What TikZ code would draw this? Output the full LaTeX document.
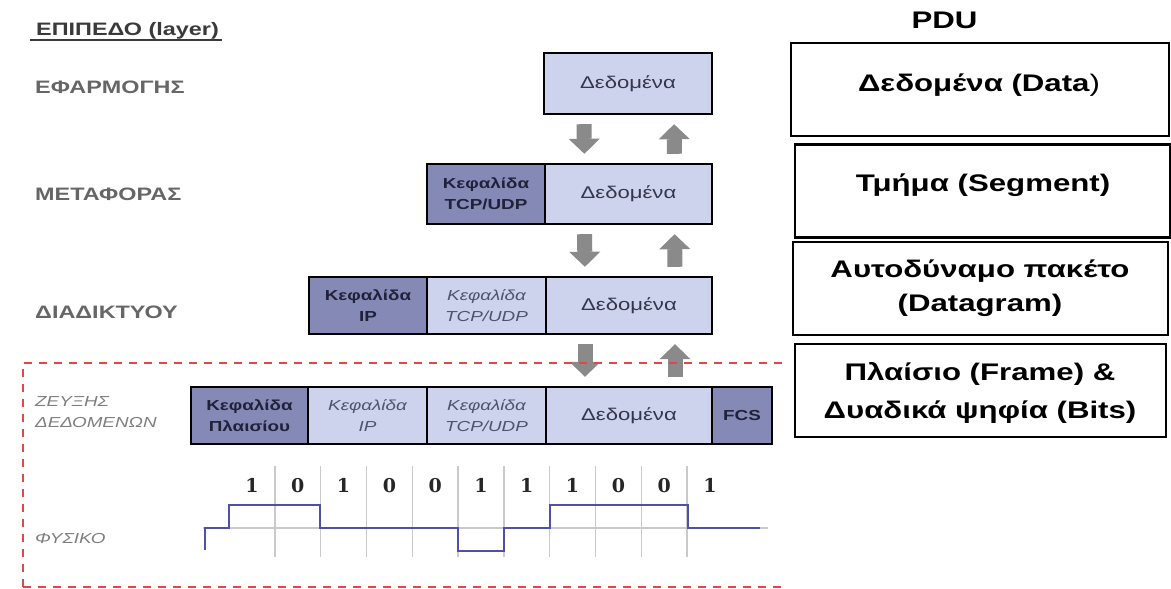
\documentclass[tikz,border=0pt]{standalone}
\usepackage{fontspec}
\newfontfamily\widesans[FakeStretch=1.3]{Liberation Sans}
\newfontfamily\bitfont{DejaVu Serif}
\usetikzlibrary{arrows.meta}

\definecolor{hdrfill}{HTML}{8589B6}
\definecolor{cellfill}{HTML}{CDD3EC}
\definecolor{hdrtext}{HTML}{20223A}
\definecolor{oldtext}{HTML}{4E5370}
\definecolor{datatext}{HTML}{34364A}
\definecolor{layergray}{HTML}{666666}
\definecolor{subgray}{HTML}{7E7E7E}
\definecolor{headgray}{HTML}{3A3A3A}
\definecolor{arrowgray}{HTML}{8A8A8A}
\definecolor{gridgray}{HTML}{CACACA}
\definecolor{signalblue}{HTML}{5050A8}
\definecolor{zonered}{HTML}{E04848}

\tikzset{
  cell/.style={draw=black, line width=2.4pt, inner sep=0pt, align=center,
    text=datatext, font=\widesans\fontsize{17}{21}\selectfont},
  hdr/.style={cell, fill=hdrfill, text=hdrtext,
    font=\widesans\bfseries\fontsize{14.5}{21}\selectfont},
  pay/.style={cell, fill=cellfill},
  oldhdr/.style={pay, text=oldtext,
    font=\widesans\itshape\fontsize{14.5}{21}\selectfont},
  layer/.style={inner sep=0pt, text=layergray,
    font=\widesans\bfseries\fontsize{18}{21}\selectfont},
  sublayer/.style={inner sep=0pt, text=subgray, align=left,
    font=\widesans\itshape\fontsize{14.5}{21}\selectfont},
  blockarr/.style={line width=15pt, draw=arrowgray, shorten <=9pt, shorten >=9pt,
    -{Triangle[width=31pt,length=15pt,line width=0pt]}},
  bitlabel/.style={inner sep=0pt, text=black!85, font=\bitfont\bfseries\fontsize{19}{19}\selectfont},
  gridline/.style={draw=gridgray, line width=1.4pt},
  signal/.style={draw=signalblue, line width=2.2pt},
  zone/.style={draw=zonered, line width=2pt, dash pattern=on 8pt off 7pt},
  pdubox/.style={draw=black, line width=2.4pt, inner sep=0pt, minimum height=93pt},
  pdutext/.style={inner sep=0pt, align=center,
    font=\widesans\bfseries\fontsize{24}{34}\selectfont}
}

\begin{document}
\begin{tikzpicture}[x=1pt,y=-1pt]
  \useasboundingbox (0,0) rectangle (1171,589);

  % επίπεδα
  \node[layer, anchor=base west, text=headgray] (layers) at (36,35) {ΕΠΙΠΕΔΟ (layer)};
  \draw[headgray, line width=1.8pt] (30,40) -- (222,40);
  \node[layer, anchor=base west] (lapp) at (35,93) {ΕΦΑΡΜΟΓΗΣ};
  \node[layer, anchor=base west] (ltr) at (35,200) {ΜΕΤΑΦΟΡΑΣ};
  \node[layer, anchor=base west] (lip) at (35,318) {ΔΙΑΔΙΚΤΥΟΥ};
  \node[sublayer, anchor=west] (llink) at (35,412) {ΖΕΥΞΗΣ\\ΔΕΔΟΜΕΝΩΝ};
  \node[sublayer, anchor=base west] (lphy) at (35,543) {ΦΥΣΙΚΟ};

  % εφαρμογή
  \node[pay, minimum width=168pt, minimum height=61pt] (appdata) at (628,83.5) {Δεδομένα};

  % μεταφορά
  \node[hdr, minimum width=118pt, minimum height=60pt] (trhdr) at (486,194) {Κεφαλίδα\\TCP/UDP};
  \node[pay, minimum width=167pt, minimum height=60pt] (trdata) at (628.5,194) {Δεδομένα};

  % διαδίκτυο
  \node[hdr, minimum width=118pt, minimum height=57pt] (iphdr) at (368,305.5) {Κεφαλίδα\\IP};
  \node[oldhdr, minimum width=119pt, minimum height=57pt] (iptcp) at (486.5,305.5) {Κεφαλίδα\\TCP/UDP};
  \node[pay, minimum width=166pt, minimum height=57pt] (ipdata) at (629,305.5) {Δεδομένα};

  % πλαίσιο
  \node[hdr, minimum width=117pt, minimum height=57pt] (frhdr) at (249.5,415.5) {Κεφαλίδα\\Πλαισίου};
  \node[oldhdr, minimum width=119pt, minimum height=57pt] (frip) at (367.5,415.5) {Κεφαλίδα\\IP};
  \node[oldhdr, minimum width=119pt, minimum height=57pt] (frtcp) at (486.5,415.5) {Κεφαλίδα\\TCP/UDP};
  \node[pay, minimum width=166pt, minimum height=57pt] (frdata) at (629,415.5) {Δεδομένα};
  \node[hdr, minimum width=60pt, minimum height=57pt] (frfcs) at (742,415.5) {FCS};

  % κάτω / πάνω
  \foreach \a/\b in {appdata/trdata, trdata/ipdata, ipdata/frdata} {
    \draw[blockarr] ([xshift=-44pt]\a.south) -- ([xshift=-44pt]\b.north);
    \draw[blockarr] ([xshift=46pt]\b.north) -- ([xshift=46pt]\a.south);
  }

  % bits
  \foreach \k in {1,...,10}
    \draw[gridline] (229+45.8*\k,466) -- ++(0,91);
  \draw[gridline] (203,528) -- (768,528);
  \foreach \b [count=\i] in {1,0,1,0,0,1,1,1,0,0,1}
    \node[bitlabel] (bit\i) at (206.2+45.8*\i,485.5) {\b};
  \draw[signal] (205,550) |- (229,528) |- (320,505) |- (458,528) |- (504,551)
    |- (550,528) |- (688,505) |- (760,528);

  % ζώνη
  \draw[zone] (782,363) -| (23,589);
  \draw[zone] (23,587) -- (782,587);

  % PDU
  \node[pdutext, anchor=base] (pduhead) at (944.5,28) {PDU};
  \node[pdubox, minimum width=378pt] (pdu1) at (980,89.5) {};
  \node[pdubox, minimum width=375pt] (pdu2) at (982.5,191) {};
  \node[pdubox, minimum width=375pt] (pdu3) at (980.5,288.5) {};
  \node[pdubox, minimum width=371pt] (pdu4) at (980.5,390.5) {};
  \node[pdutext] (pdudata) at (979,85.5) {Δεδομένα (Data{\mdseries)}};
  \node[pdutext] (pduseg) at (983,185.5) {Τμήμα (Segment)};
  \node[pdutext] (pdugram) at (980,288.5) {Αυτοδύναμο πακέτο\\(Datagram)};
  \node[pdutext, font=\widesans\bfseries\fontsize{24}{38}\selectfont] (pduframe) at (980,392.5) {Πλαίσιο (Frame) \&\\Δυαδικά ψηφία (Bits)};
\end{tikzpicture}
\end{document}
